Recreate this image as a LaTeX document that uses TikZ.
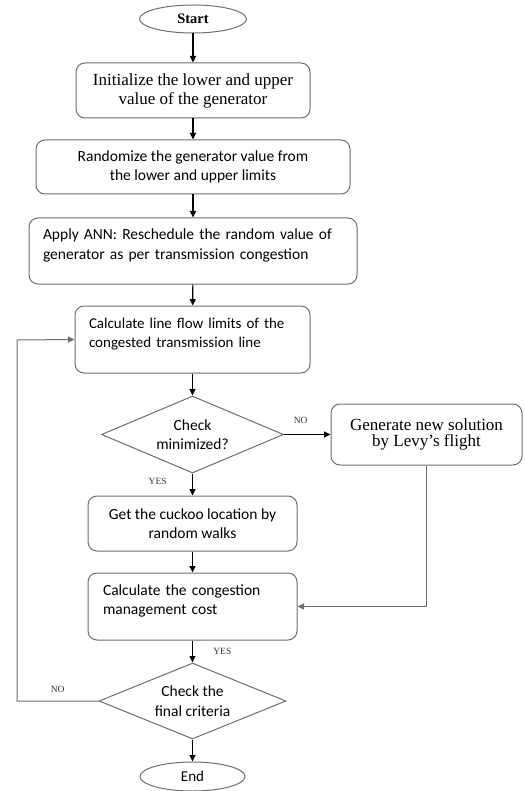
\documentclass[tikz,border=0pt]{standalone}
\usepackage{fontspec}
\setmainfont{Liberation Serif}
\newfontfamily\calib{Carlito}
\usepackage{tikz}
\usetikzlibrary{arrows.meta,shapes.geometric}
\definecolor{boxgray}{RGB}{110,110,110}
\tikzset{
  fcbox/.style={rectangle, rounded corners=9pt, draw=boxgray, line width=1pt,
                inner sep=0pt, align=center},
  fcleft/.style={fcbox, align=left},
  fcterm/.style={ellipse, draw=boxgray, line width=1pt, inner sep=0pt},
  fcdec/.style={diamond, draw=boxgray, line width=1pt, inner sep=0pt, align=center},
  fcserif/.style={font=\fontsize{17}{19}\selectfont},
  fcsans/.style={font=\calib\fontsize{15.5}{19.5}\selectfont},
  fcarr/.style={-{Triangle[length=6.5pt,width=6pt]}, line width=1.1pt, black},
  fcline/.style={line width=1pt, boxgray},
  fctag/.style={font=\fontsize{9.5}{10}\selectfont, text=black!80},
}

\begin{document}
\begin{tikzpicture}[x=1pt, y=-1pt]
  \useasboundingbox (0,0) rectangle (524,791);
  \node[fcterm, minimum width=107pt, minimum height=28pt,
        font=\bfseries\fontsize{14.5}{15}\selectfont] (start) at (193,19) {Start};
  \node[fcbox, fcserif, minimum width=234pt, minimum height=55pt] (init) at (193,90.5)
    {Initialize the lower and upper\\value of the generator};
  \node[fcbox, fcsans, minimum width=314pt, minimum height=54pt] (rand) at (193,167)
    {Randomize the generator value from\\the lower and upper limits};
  \node[fcleft, fcsans, minimum width=328pt, minimum height=66pt, text width=300pt] (ann) at (193,251)
    {Apply ANN: Reschedule the random value of\\generator as per transmission congestion\\[-6pt]\mbox{}};
  \node[fcleft, fcsans, minimum width=235pt, minimum height=67pt, text width=207pt,
        font=\calib\fontsize{15}{19.5}\selectfont] (flow) at (192.5,339.5)
    {Calculate line flow limits of the\\congested transmission line\\[-6pt]\mbox{}};
  \node[fcdec, fcsans, aspect=2.36, minimum width=182pt, minimum height=77pt] (chk1) at (192.5,434.5)
    {Check\\minimized?};
  \node[fcbox, fcserif, minimum width=191pt, minimum height=61pt,
        font=\fontsize{17}{16.5}\selectfont] (levy) at (426.5,434.5)
    {Generate new solution\\by Levy's flight};
  \node[fcbox, fcsans, minimum width=209pt, minimum height=55pt] (cuckoo) at (192.5,523.5)
    {Get the cuckoo location by\\random walks};
  \node[fcleft, fcsans, minimum width=209pt, minimum height=67pt, text width=179pt] (cost) at (192.5,606.5)
    {Calculate the congestion\\management cost\\[-6pt]\mbox{}};
  \node[fcdec, fcsans, aspect=2.46, minimum width=187pt, minimum height=76pt] (chk2) at (192.5,701)
    {Check the\\final criteria};
  \node[fcterm, minimum width=105pt, minimum height=29pt,
        font=\calib\fontsize{15}{16}\selectfont] (end) at (192.5,776.5) {End};
  \coordinate (loop) at (17,340);

  \draw[fcarr] (start) -- (init);
  \draw[fcarr] (init) -- (rand);
  \draw[fcarr] (rand) -- (ann);
  \draw[fcarr] (ann) -- (flow);
  \draw[fcarr] (flow) -- (chk1);
  \draw[fcarr] (chk1.east) -- node[fctag, pos=0.36, above=7pt]{NO} (levy.west);
  \draw[fcarr] (chk1.south) -- node[fctag, pos=0.35, left=22pt]{YES} (cuckoo.north);
  \draw[fcarr] (cuckoo) -- (cost);
  \draw[fcarr, fcline] (levy.south) |- (cost.east);
  \draw[fcarr] (cost.south) -- node[fctag, pos=0.5, right=17pt]{YES} (chk2.north);
  \draw[fcarr, fcline] (chk2.west) -| node[fctag, pos=0.25, above=5pt]{NO} (loop) -- (flow.west);
  \draw[fcarr] (chk2.south) -- (end.north);
\end{tikzpicture}
\end{document}
